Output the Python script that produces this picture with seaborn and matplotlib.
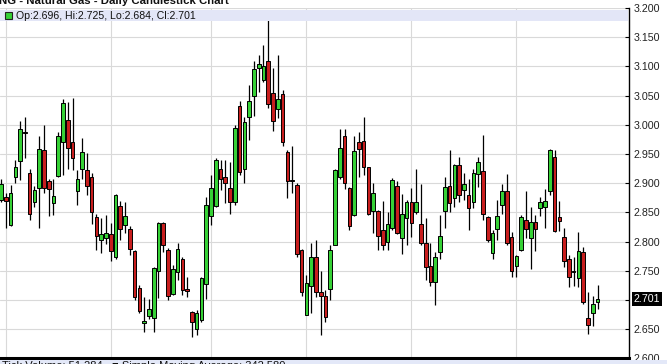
import numpy as np
import pandas as pd
import matplotlib
matplotlib.use("Agg")
import matplotlib.pyplot as plt
import matplotlib.transforms as mtransforms
from matplotlib.patches import Rectangle
import seaborn as sns

# ---------------- data ----------------
opens = [2.872, 2.876, 2.828, 2.910, 2.938, 2.988, 2.917, 2.867, 2.891, 2.957,
         2.903, 2.866, 2.912, 2.970, 3.008, 2.970, 2.887, 2.925, 2.922, 2.911,
         2.842, 2.803, 2.806, 2.813, 2.774, 2.861, 2.828, 2.822, 2.784, 2.720,
         2.661, 2.673, 2.670, 2.749, 2.831, 2.786, 2.710, 2.748, 2.770, 2.718,
         2.680, 2.650, 2.666, 2.727, 2.844, 2.861, 2.924, 2.910, 2.891, 2.867,
         3.033, 2.925, 3.013, 3.050, 3.098, 3.077, 3.109, 3.054, 3.027, 3.053,
         2.954, 2.906, 2.897, 2.786, 2.675, 2.724, 2.773, 2.713, 2.707, 2.718,
         2.795, 2.911, 2.981, 2.891, 2.846, 2.970, 2.972, 2.927, 2.852, 2.852,
         2.820, 2.799, 2.824, 2.895, 2.807, 2.840, 2.868, 2.850, 2.830, 2.797,
         2.759, 2.731, 2.782, 2.853, 2.896, 2.874, 2.931, 2.888, 2.879, 2.867,
         2.916, 2.921, 2.842, 2.780, 2.821, 2.862, 2.887, 2.808, 2.758, 2.786,
         2.837, 2.806, 2.833, 2.857, 2.860, 2.886, 2.945, 2.842, 2.808, 2.771,
         2.750, 2.737, 2.783, 2.670, 2.677, 2.696]
highs = [2.908, 2.883, 2.897, 2.940, 3.007, 3.013, 2.924, 2.895, 2.981, 2.999,
         2.908, 2.908, 2.987, 3.045, 3.039, 3.046, 2.923, 2.977, 2.952, 2.917,
         2.847, 2.840, 2.846, 2.831, 2.882, 2.869, 2.868, 2.826, 2.785, 2.725,
         2.705, 2.702, 2.757, 2.833, 2.833, 2.789, 2.760, 2.797, 2.774, 2.740,
         2.681, 2.683, 2.740, 2.877, 2.914, 2.943, 2.940, 2.940, 2.937, 3.000,
         3.041, 3.014, 3.068, 3.109, 3.120, 3.137, 3.179, 3.097, 3.120, 3.060,
         2.957, 2.964, 2.900, 2.787, 2.743, 2.798, 2.803, 2.749, 2.717, 2.794,
         2.925, 2.993, 2.993, 2.894, 2.980, 2.988, 3.013, 2.928, 2.901, 2.854,
         2.870, 2.851, 2.909, 2.903, 2.882, 2.871, 2.891, 2.925, 2.899, 2.840,
         2.797, 2.783, 2.846, 2.910, 2.957, 2.933, 2.945, 2.917, 2.907, 2.925,
         2.945, 2.983, 2.844, 2.820, 2.872, 2.899, 2.916, 2.817, 2.777, 2.846,
         2.886, 2.860, 2.846, 2.877, 2.890, 2.958, 2.957, 2.870, 2.824, 2.777,
         2.774, 2.817, 2.791, 2.713, 2.707, 2.725]
lows = [2.868, 2.823, 2.826, 2.900, 2.905, 2.943, 2.837, 2.860, 2.824, 2.883,
        2.843, 2.846, 2.911, 2.914, 2.925, 2.923, 2.862, 2.908, 2.880, 2.830,
        2.785, 2.781, 2.796, 2.766, 2.771, 2.803, 2.814, 2.777, 2.700, 2.677,
        2.646, 2.667, 2.645, 2.703, 2.783, 2.700, 2.708, 2.734, 2.709, 2.705,
        2.637, 2.640, 2.663, 2.701, 2.828, 2.860, 2.888, 2.866, 2.848, 2.863,
        2.914, 2.901, 2.974, 3.015, 3.057, 3.074, 3.028, 2.990, 3.011, 2.963,
        2.874, 2.883, 2.774, 2.706, 2.674, 2.678, 2.705, 2.640, 2.663, 2.700,
        2.794, 2.908, 2.890, 2.820, 2.844, 2.911, 2.914, 2.846, 2.814, 2.786,
        2.786, 2.786, 2.820, 2.813, 2.779, 2.794, 2.808, 2.847, 2.794, 2.735,
        2.724, 2.691, 2.770, 2.823, 2.850, 2.859, 2.867, 2.871, 2.820, 2.857,
        2.894, 2.837, 2.800, 2.771, 2.803, 2.847, 2.794, 2.740, 2.740, 2.784,
        2.806, 2.753, 2.784, 2.843, 2.823, 2.880, 2.817, 2.819, 2.757, 2.722,
        2.724, 2.723, 2.693, 2.642, 2.655, 2.684]
closes = [2.898, 2.870, 2.884, 2.928, 2.992, 2.986, 2.848, 2.888, 2.958, 2.891,
          2.890, 2.878, 2.980, 3.037, 2.961, 2.943, 2.908, 2.953, 2.896, 2.850,
          2.810, 2.813, 2.814, 2.784, 2.880, 2.821, 2.844, 2.787, 2.705, 2.681,
          2.664, 2.685, 2.754, 2.831, 2.794, 2.707, 2.753, 2.788, 2.717, 2.716,
          2.663, 2.678, 2.737, 2.862, 2.891, 2.939, 2.908, 2.901, 2.867, 2.994,
          2.919, 3.005, 3.040, 3.096, 3.104, 3.100, 3.035, 3.007, 3.045, 2.970,
          2.904, 2.904, 2.778, 2.713, 2.729, 2.773, 2.713, 2.706, 2.671, 2.786,
          2.923, 2.961, 2.900, 2.826, 2.955, 2.958, 2.927, 2.848, 2.884, 2.810,
          2.795, 2.830, 2.905, 2.815, 2.847, 2.868, 2.831, 2.867, 2.797, 2.757,
          2.731, 2.773, 2.810, 2.894, 2.866, 2.931, 2.880, 2.899, 2.857, 2.917,
          2.937, 2.847, 2.803, 2.815, 2.844, 2.887, 2.797, 2.749, 2.775, 2.842,
          2.821, 2.834, 2.821, 2.867, 2.870, 2.957, 2.819, 2.836, 2.766, 2.740,
          2.748, 2.784, 2.697, 2.657, 2.693, 2.701]

# first trading day of each month (vertical grid lines)
month_start_days = [1, 23, 44, 64, 86, 108]
price_ticks = [2.600, 2.650, 2.700, 2.750, 2.800, 2.850, 2.900, 2.950,
               3.000, 3.050, 3.100, 3.150, 3.200]
title_text = "NG - Natural Gas - Daily Candlestick Chart"
legend_text = "Op:2.696, Hi:2.725, Lo:2.684, Cl:2.701"
last_price = 2.701
bottom_text = "Tick Volume: 51,284   \u25a0 Simple Moving Average: 342,580"

# ---------------- styling ----------------
sns.set_theme(style="white")
plt.rcParams['font.family'] = ['Liberation Sans', 'DejaVu Sans']

GREEN = "#36D136"
RED = "#C81E1E"
GRID = "#D9D9D9"

df = pd.DataFrame({"open": opens, "high": highs, "low": lows, "close": closes})
df["day"] = np.arange(len(df))
df["up"] = df["close"] >= df["open"]

W, H = 667, 364
fig = plt.figure(figsize=(W / 100, H / 100), dpi=100)
fig.patch.set_facecolor("white")


def fx(px):
    return px / W


def fy(py_from_top):
    return 1 - py_from_top / H


ax_top_px, ax_bot_px, ax_right_px = 8.0, 358.4, 629.0
ax = fig.add_axes([0, fy(ax_bot_px), fx(ax_right_px), (ax_bot_px - ax_top_px) / H])
ax.set_facecolor("white")

ax.set_xlim(-0.21, 131.6)
ax.set_ylim(2.600, 3.200)
ax.set_yticks(price_ticks)
# the label next to the last price is hidden behind the price tag
ax.set_yticklabels(["" if abs(v - last_price) < 0.02 else f"{v:.3f}"
                    for v in price_ticks])
ax.set_xticks(month_start_days)
ax.set_xticklabels([])
ax.grid(True, color=GRID, lw=0.8)
ax.set_axisbelow(True)

# wicks
ax.vlines(df["day"], df["low"], df["high"], color="black", lw=0.9, zorder=2)
# bodies
body_bottom = np.minimum(df["open"], df["close"])
body_height = np.maximum((df["close"] - df["open"]).abs(), 0.0012)
ax.bar(df["day"], body_height, bottom=body_bottom, width=0.76,
       color=np.where(df["up"], GREEN, RED), edgecolor="black",
       linewidth=0.7, zorder=3)

# axes frame
for s in ["left", "top"]:
    ax.spines[s].set_visible(False)
ax.spines["right"].set_color("black")
ax.spines["right"].set_linewidth(1.0)
ax.spines["bottom"].set_color("black")
ax.spines["bottom"].set_linewidth(2.2)

ax.yaxis.tick_right()
ax.tick_params(axis="y", direction="in", length=3, width=0.8, pad=3,
               labelsize=7.7, labelcolor="#222222", color="black", right=True)
ax.tick_params(axis="x", length=0)

# legend strip at the top of the plot
ax.add_patch(Rectangle((fx(0), fy(21)), fx(628), (21 - 10) / H,
                       transform=fig.transFigure, facecolor="#E3E6F7",
                       edgecolor="none", zorder=5))
ax.add_patch(Rectangle((fx(5), fy(19)), fx(7), 7 / H, transform=fig.transFigure,
                       facecolor=GREEN, edgecolor="#222222", lw=0.8, zorder=6))
fig.text(fx(16), fy(15.7), legend_text, fontsize=7.6, color="#111111",
         va="center", ha="left", zorder=7)

# last price tag
trans = mtransforms.blended_transform_factory(ax.transAxes, ax.transData)
ax.text(1 + 4.6 / ax_right_px, last_price, f"{last_price:.3f}", transform=trans,
        color="white", fontsize=7.7, va="center", ha="left", zorder=10,
        clip_on=False,
        bbox=dict(boxstyle="square,pad=0.18", fc="black", ec="none"))

# title cut at the top of the image
fig.text(fx(-1), fy(4.5), title_text, fontsize=8.2, fontweight="bold",
         color="#111111", va="baseline", ha="left")

# cut-off lower panel strip
fig.patches.append(Rectangle((0, 0), 1, 4.5 / H, transform=fig.transFigure,
                             facecolor="#E3E8F8", edgecolor="none", zorder=0))
fig.text(fx(2), fy(360.6), bottom_text, fontsize=8.0, color="#111111",
         va="top", ha="left")

fig.savefig("out.png", dpi=100)
